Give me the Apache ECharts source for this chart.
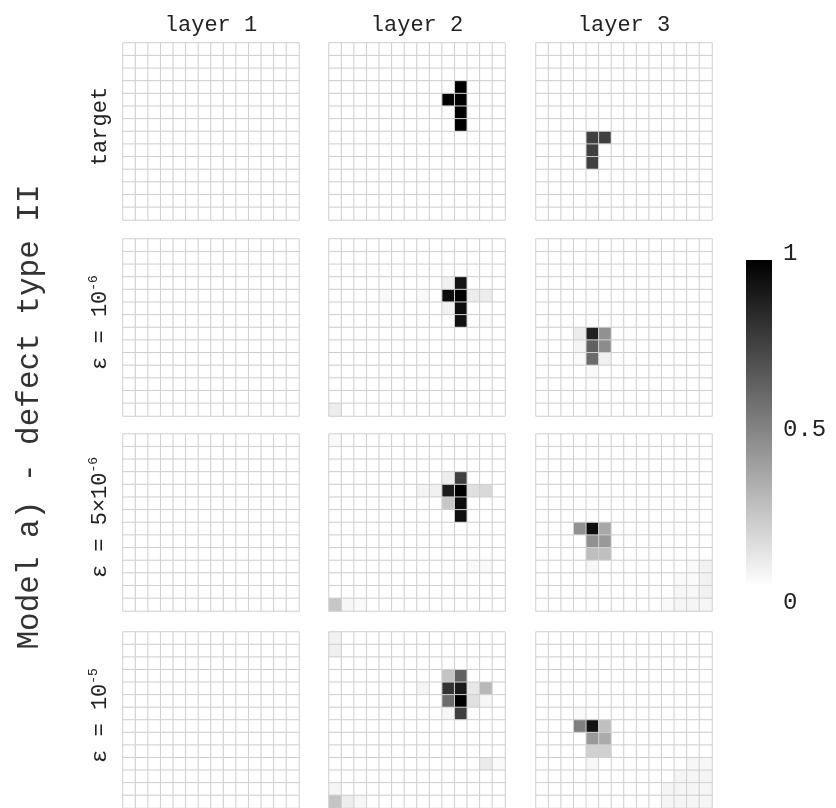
<!DOCTYPE html>
<html>
<head>
<meta charset="utf-8">
<script src="https://cdn.jsdelivr.net/npm/echarts@6/dist/echarts.min.js"></script>
<style>
  html, body { margin: 0; padding: 0; background: #fff; }
  #main { width: 836px; height: 808px; }
</style>
</head>
<body>
<div id="main"></div>
<script>
// 列标题和行标题
var layerNames = ['layer 1', 'layer 2', 'layer 3'];
var rowNames = ['target', 'eps1', 'eps2', 'eps3'];
var cbTicks = ['1', '0.5', '0'];
var gridSize = 14;

// 每个面板只记非零格子: [行, 列, 值]
var target_L1 = [];
var target_L2 = [[3, 10, 1], [4, 9, 1], [4, 10, 1], [5, 10, 1], [6, 10, 1]];
var target_L3 = [[7, 4, 0.75], [7, 5, 0.75], [8, 4, 0.75], [9, 4, 0.75]];

var eps1_L1 = [];
var eps1_L2 = [[3, 9, 0.05], [3, 10, 0.92], [4, 4, 0.02], [4, 7, 0.02], [4, 9, 0.95], [4, 10, 1.0],
    [4, 11, 0.07], [4, 12, 0.07], [5, 9, 0.05], [5, 10, 0.95], [6, 10, 0.93], [6, 12, 0.01], [13, 0, 0.07]];
var eps1_L3 = [[7, 3, 0.07], [7, 4, 0.87], [7, 5, 0.43], [8, 3, 0.04], [8, 4, 0.62], [8, 5, 0.45],
    [9, 3, 0.02], [9, 4, 0.58], [9, 5, 0.06], [10, 4, 0.02]];

var eps2_L1 = [];
var eps2_L2 = [[0, 0, 0.02], [3, 9, 0.07], [3, 10, 0.75], [4, 7, 0.04], [4, 8, 0.06], [4, 9, 0.89],
    [4, 10, 1.0], [4, 11, 0.12], [4, 12, 0.15], [5, 9, 0.22], [5, 10, 0.95], [6, 10, 0.94],
    [10, 11, 0.02], [10, 12, 0.02], [11, 10, 0.01], [13, 0, 0.22], [13, 1, 0.03], [13, 2, 0.02]];
var eps2_L3 = [[7, 3, 0.43], [7, 4, 0.94], [7, 5, 0.34], [8, 4, 0.43], [8, 5, 0.4], [9, 4, 0.25],
    [9, 5, 0.25], [10, 4, 0.03], [10, 12, 0.02], [10, 13, 0.05], [11, 11, 0.02], [11, 12, 0.02],
    [11, 13, 0.05], [12, 11, 0.03], [12, 12, 0.03], [12, 13, 0.05], [13, 10, 0.02], [13, 11, 0.04],
    [13, 12, 0.04], [13, 13, 0.04]];

var eps3_L1 = [];
var eps3_L2 = [[0, 0, 0.05], [1, 0, 0.06], [3, 9, 0.23], [3, 10, 0.62], [4, 7, 0.04], [4, 9, 0.8],
    [4, 10, 0.9], [4, 11, 0.09], [4, 12, 0.28], [5, 9, 0.58], [5, 10, 1.0], [5, 11, 0.12],
    [5, 12, 0.03], [6, 9, 0.03], [6, 10, 0.75], [10, 12, 0.08], [10, 13, 0.02], [12, 0, 0.04],
    [13, 0, 0.23], [13, 1, 0.07], [13, 2, 0.03]];
var eps3_L3 = [[6, 3, 0.02], [7, 3, 0.5], [7, 4, 0.92], [7, 5, 0.25], [8, 4, 0.4], [8, 5, 0.33],
    [9, 4, 0.18], [9, 5, 0.18], [10, 4, 0.03], [10, 12, 0.03], [10, 13, 0.03], [11, 11, 0.04],
    [11, 12, 0.04], [11, 13, 0.04], [12, 10, 0.04], [12, 11, 0.04], [12, 12, 0.04], [12, 13, 0.04],
    [13, 10, 0.04], [13, 11, 0.04], [13, 12, 0.04], [13, 13, 0.04]];

var panels = [
    [target_L1, target_L2, target_L3],
    [eps1_L1, eps1_L2, eps1_L3],
    [eps2_L1, eps2_L2, eps2_L3],
    [eps3_L1, eps3_L2, eps3_L3]
];

var chart = echarts.init(document.getElementById('main'));
var font = 'Liberation Mono';
var colLeft = [123, 329, 536];
var rowTop = [43, 239, 434, 632];
var cellW = 176, cellH = 177;

var cats = [];
for (var k = 0; k < gridSize; k++) cats.push(String(k));

// 把稀疏的格子补成完整的 14x14
function fullData(sparse) {
    var m = {};
    sparse.forEach(function (d) { m[d[0] + '_' + d[1]] = d[2]; });
    var out = [];
    for (var r = 0; r < gridSize; r++) {
        for (var c = 0; c < gridSize; c++) {
            var v = m[r + '_' + c];
            out.push([c, r, v === undefined ? 0 : v]);
        }
    }
    return out;
}

var grids = [], xAxes = [], yAxes = [], series = [];
var idx = 0;
for (var i = 0; i < 4; i++) {
    for (var j = 0; j < 3; j++) {
        grids.push({ left: colLeft[j], top: rowTop[i], width: cellW, height: cellH, containLabel: false });
        xAxes.push({ type: 'category', gridIndex: idx, data: cats, show: false });
        yAxes.push({ type: 'category', gridIndex: idx, data: cats, inverse: true, show: false });
        series.push({
            type: 'heatmap',
            xAxisIndex: idx,
            yAxisIndex: idx,
            data: fullData(panels[i][j]),
            itemStyle: { borderColor: '#cfcfcf', borderWidth: 1 },
            emphasis: { disabled: true },
            progressive: 0,
            silent: true
        });
        idx++;
    }
}

var graphics = [];
layerNames.forEach(function (name, j) {
    graphics.push({
        type: 'text', x: colLeft[j] + cellW / 2, y: 25,
        style: { text: name, font: '22px ' + font, fill: '#222', textAlign: 'center', textVerticalAlign: 'middle' }
    });
});

var richSup = {
    n: { font: '22px ' + font, fill: '#222', lineHeight: 26, verticalAlign: 'middle' },
    s: { font: '13px ' + font, fill: '#222', lineHeight: 26, verticalAlign: 'top' }
};
var rowTexts = ['{n|target}', '{n|ε = 10}{s|-6}', '{n|ε = 5×10}{s|-6}', '{n|ε = 10}{s|-5}'];
rowTexts.forEach(function (t, i) {
    graphics.push({
        type: 'text', x: 100, y: rowTop[i] + cellH / 2 - 5, rotation: Math.PI / 2,
        style: { text: t, rich: richSup, textAlign: 'center', textVerticalAlign: 'middle' }
    });
});

graphics.push({
    type: 'text', x: 30, y: 417, rotation: Math.PI / 2,
    style: { text: 'Model a) - defect type II', font: '31px ' + font, fill: '#333', textAlign: 'center', textVerticalAlign: 'middle' }
});

// 色条: 直角矩形, 渐变与 visualMap 的 inRange 一致
var cbColors = ['#000000', '#ffffff'];
graphics.push({
    type: 'rect', x: 746, y: 260, shape: { width: 26, height: 327 },
    style: {
        fill: new echarts.graphic.LinearGradient(0, 0, 0, 1, [
            { offset: 0, color: cbColors[0] }, { offset: 1, color: cbColors[1] }
        ])
    },
    silent: true
});
var cbY = [254, 430, 603];
cbTicks.forEach(function (t, i) {
    graphics.push({
        type: 'text', x: 783, y: cbY[i],
        style: { text: t, font: '24px ' + font, fill: '#222', textAlign: 'left', textVerticalAlign: 'middle' }
    });
});

var option = {
    backgroundColor: '#fff',
    animation: false,
    grid: grids,
    xAxis: xAxes,
    yAxis: yAxes,
    visualMap: {
        type: 'continuous',
        show: false,
        min: 0,
        max: 1,
        inRange: { color: [cbColors[1], cbColors[0]] }
    },
    series: series,
    graphic: graphics
};

chart.setOption(option);
</script>
</body>
</html>
